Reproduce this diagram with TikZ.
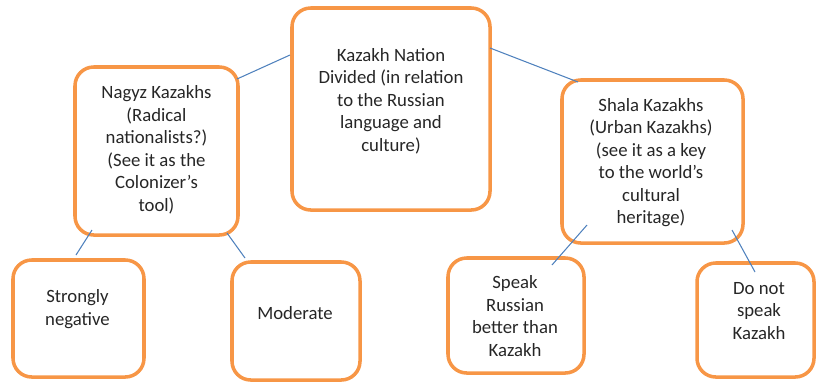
\documentclass[tikz,border=0pt]{standalone}
\usepackage{fontspec}
\setmainfont{Carlito}
\definecolor{boxorange}{HTML}{F79646}
\definecolor{linkblue}{HTML}{4F81BD}

\begin{document}
\begin{tikzpicture}[x=0.03cm, y=-0.03cm,
    box/.style={draw=boxorange, line width=3pt, rounded corners=16pt, outer sep=0pt, inner sep=0pt},
    txt/.style={align=center, font=\fontsize{16}{19.2}\selectfont, text=black!85},
    link/.style={draw=linkblue, line width=0.9pt}]
    \useasboundingbox (0,0) rectangle (817,381);

    % boxes
    \node[box, minimum width=5.94cm, minimum height=6.06cm] (top) at (391,109) {};
    \node[box, minimum width=4.89cm, minimum height=5.04cm] (nk) at (156.5,151) {};
    \node[box, minimum width=5.43cm, minimum height=4.89cm] (sk) at (652.5,161.5) {};
    \node[box, minimum width=3.93cm, minimum height=3.51cm] (neg) at (78.5,318.5) {};
    \node[box, minimum width=3.84cm, minimum height=3.54cm] (mod) at (296,321) {};
    \node[box, minimum width=4.08cm, minimum height=3.45cm] (spk) at (516,315.5) {};
    \node[box, minimum width=3.51cm, minimum height=3.42cm] (dnk) at (755.5,320) {};

    % texts
    \node[txt] (toptext) at (391,101) {Kazakh Nation\\Divided (in relation\\to the Russian\\language and\\culture)};
    \node[txt] (nktext) at (156.5,150) {Nagyz Kazakhs\\(Radical\\nationalists?)\\(See it as the\\Colonizer’s\\tool)};
    \node[txt] (sktext) at (651,162.5) {Shala Kazakhs\\(Urban Kazakhs)\\(see it as a key\\to the world’s\\cultural\\heritage)};
    \node[txt] (negtext) at (77.5,309) {Strongly\\negative};
    \node[txt] (modtext) at (295,313) {Moderate};
    \node[txt] (spktext) at (515,316) {Speak\\Russian\\better than\\Kazakh};
    \node[txt] (dnktext) at (759,311) {Do not\\speak\\Kazakh};

    % connectors
    \draw[link] ([shift={(-2,47)}]top.north west) -- ([shift={(-1,12)}]nk.north east);
    \draw[link] ([shift={(0,40)}]top.north east) -- ([shift={(16,2)}]sk.north west);
    \draw[link] ([shift={(17,-5)}]nk.south west) -- ([shift={(-2.5,-5)}]neg.north);
    \draw[link] ([shift={(-11,-2)}]nk.south east) -- ([shift={(13,-4)}]mod.north west);
    \draw[link] ([shift={(25,-18)}]sk.south west) -- ([shift={(104,7)}]spk.north west);
    \draw[link] ([shift={(-11,-13)}]sk.south east) -- ([shift={(-0.5,9)}]dnk.north);
\end{tikzpicture}
\end{document}
